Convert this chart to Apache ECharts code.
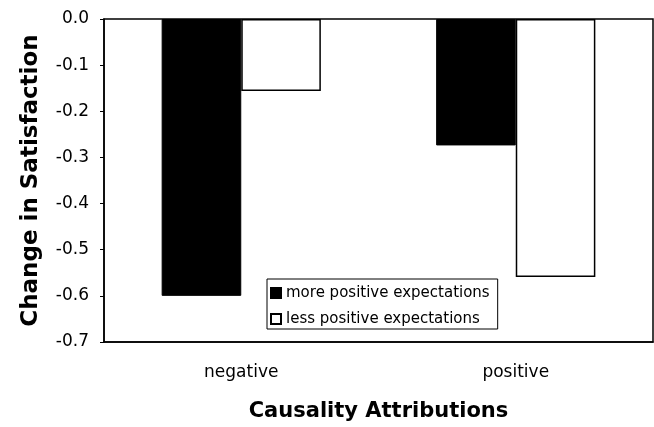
<!DOCTYPE html>
<html>
<head>
<meta charset="utf-8">
<script src="https://cdn.jsdelivr.net/npm/echarts@6/dist/echarts.min.js"></script>
<style>
    html, body { margin: 0; padding: 0; background: #fff; }
    #chart { width: 654px; height: 427px; }
</style>
</head>
<body>
<div id="chart"></div>
<script>
    var categories = ['negative', 'positive'];
    var seriesNames = ['more positive expectations', 'less positive expectations'];
    var moreValues = [-0.60, -0.274];
    var lessValues = [-0.156, -0.559];

    var chart = echarts.init(document.getElementById('chart'));
    chart.setOption({
        animation: false,
        textStyle: { fontFamily: 'DejaVu Sans, sans-serif', color: '#000' },
        grid: {
            left: 104,
            top: 19,
            right: 1,
            bottom: 82,
            show: true,
            borderColor: '#000',
            borderWidth: 1.5,
            backgroundColor: '#fff'
        },
        legend: {
            data: seriesNames,
            orient: 'vertical',
            left: 267,
            top: 279,
            itemWidth: 10,
            itemHeight: 10,
            itemGap: 10,
            icon: 'rect',
            backgroundColor: '#fff',
            borderColor: '#000',
            borderWidth: 1,
            padding: [6, 8, 2, 3],
            textStyle: { fontSize: 15, lineHeight: 16, color: '#000' }
        },
        xAxis: {
            type: 'category',
            data: categories,
            name: 'Causality Attributions',
            nameLocation: 'middle',
            nameGap: 59,
            nameTextStyle: { fontSize: 21, fontWeight: 'bold', color: '#000' },
            axisLine: { onZero: false, lineStyle: { color: '#000', width: 1.5 } },
            axisTick: { show: false },
            axisLabel: { fontSize: 17, color: '#000', margin: 22 }
        },
        yAxis: {
            type: 'value',
            min: -0.7,
            max: 0,
            interval: 0.1,
            name: 'Change in Satisfaction',
            nameLocation: 'middle',
            nameGap: 61,
            nameTextStyle: { fontSize: 23, fontWeight: 'bold', color: '#000' },
            splitLine: { show: false },
            axisLine: { show: true, lineStyle: { color: '#000', width: 1.5 } },
            axisTick: { show: true, length: 4, lineStyle: { color: '#000' } },
            axisLabel: {
                fontSize: 17,
                color: '#000',
                margin: 15,
                formatter: function (v) { return v.toFixed(1); }
            }
        },
        series: [
            {
                name: seriesNames[0],
                type: 'bar',
                data: moreValues,
                barGap: '0%',
                barCategoryGap: '42%',
                itemStyle: { color: '#000', borderColor: '#000', borderWidth: 1 }
            },
            {
                name: seriesNames[1],
                type: 'bar',
                data: lessValues,
                itemStyle: { color: '#fff', borderColor: '#000', borderWidth: 1.5 }
            }
        ]
    });
</script>
</body>
</html>
